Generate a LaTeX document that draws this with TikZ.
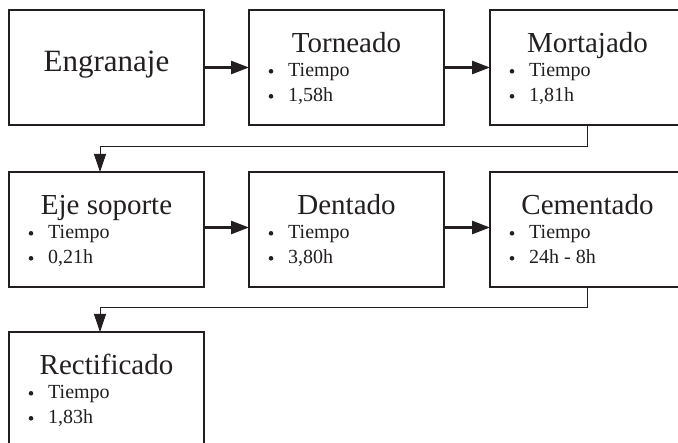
\documentclass[tikz,border=0pt]{standalone}
\usepackage{fontspec}
\setmainfont{Liberation Serif}
\usetikzlibrary{arrows.meta,calc}
\definecolor{ink}{HTML}{231F20}
\tikzset{
  box/.style={draw=ink, line width=1.1pt, minimum width=195pt, minimum height=115pt, inner sep=0pt, outer sep=0pt},
  ttl/.style={text=ink, font=\fontsize{29}{34}\selectfont, inner sep=0pt, anchor=base},
  bigttl/.style={text=ink, font=\fontsize{31}{36}\selectfont, inner sep=0pt},
  itm/.style={text=ink, font=\fontsize{20}{24}\selectfont, inner sep=0pt, anchor=base west},
  bul/.style={fill=ink, circle, inner sep=0pt, minimum size=4.6pt},
  flow/.style={draw=ink, line width=2.6pt, -{Triangle[length=18pt,width=13pt]}},
  link/.style={draw=ink, line width=0.9pt, -{Triangle[length=18pt,width=12pt]}},
}
\newcommand\procbox[5]{%
  \node[box] (#1) at ({#2+97.5},{#3+57.5}) {};
  \node[ttl] (#1-t) at ({#2+97.5},{#3+43}) {#4};
  \node[bul] (#1-b1) at ({#2+22},{#3+61.3}) {};
  \node[itm] (#1-i1) at ({#2+39},{#3+67}) {Tiempo};
  \node[bul] (#1-b2) at ({#2+22},{#3+86.3}) {};
  \node[itm] (#1-i2) at ({#2+39},{#3+92}) {#5};
}
\begin{document}
\begin{tikzpicture}[x=1pt,y=-1pt]
\useasboundingbox (0,0) rectangle (678,443);
\clip (0,0) rectangle (678,443);
\fill[white] (0,0) rectangle (678,443);
% row 1
\node[box] (engr) at (106.5,67.5) {};
\node[bigttl] (engr-t) at (106.5,65) {Engranaje};
\procbox{torn}{249}{10}{Torneado}{1,58h}
\procbox{mort}{490}{10}{Mortajado}{1,81h}
% row 2
\procbox{eje}{9}{172}{Eje soporte}{0,21h}
\procbox{dent}{249}{172}{Dentado}{3,80h}
\procbox{cem}{490}{172}{Cementado}{24h - 8h}
% row 3
\procbox{rect}{9}{332}{Rectificado}{1,83h}
% connectors
\draw[flow] (engr.east) -- (torn.west);
\draw[flow] (torn.east) -- (mort.west);
\draw[flow] ([yshift=2pt]eje.east) -- ([yshift=2pt]dent.west);
\draw[flow] ([yshift=2pt]dent.east) -- ([yshift=2pt]cem.west);
\draw[link] (mort.south) -- ++(0,21) -| ([xshift=-6.5pt]eje.north);
\draw[link] (cem.south) -- ++(0,20) -| ([xshift=-6.5pt]rect.north);
\end{tikzpicture}
\end{document}
